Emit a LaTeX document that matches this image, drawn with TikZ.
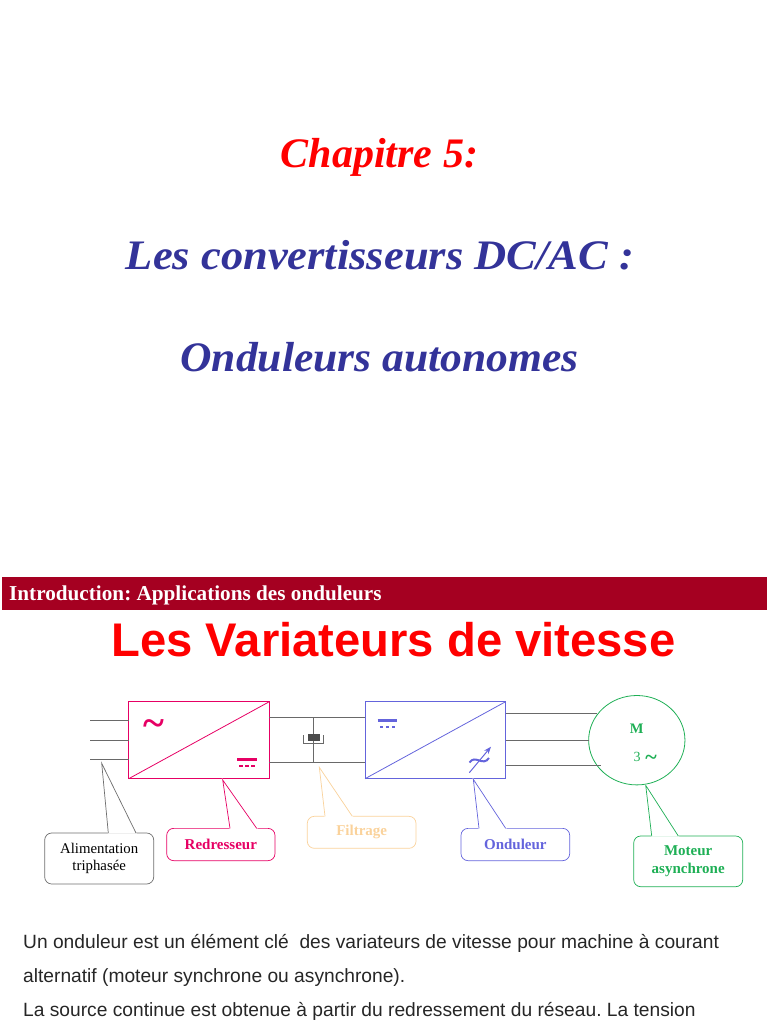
\documentclass[tikz,border=0pt]{standalone}
\usepackage{fontspec}
\setmainfont{Liberation Serif}
\setsansfont{Liberation Sans}
\usetikzlibrary{arrows.meta, positioning, shapes.geometric}
\frenchspacing
\definecolor{RougeTitre}{RGB}{255,0,0}
\definecolor{BleuTitre}{RGB}{51,51,153}
\definecolor{Bordeaux}{RGB}{165,0,33}
\definecolor{Fil}{RGB}{105,105,105}
\definecolor{Gris}{RGB}{110,110,110}
\definecolor{Rose}{RGB}{230,0,100}
\definecolor{Sable}{RGB}{250,210,155}
\definecolor{Bleu}{RGB}{100,100,220}
\definecolor{Vert}{RGB}{30,175,85}
\tikzset{titre/.style={anchor=base, inner sep=0pt, font=\fontsize{42}{42}\selectfont\bfseries\itshape}}
\tikzset{corps/.style={anchor=base west, inner sep=0pt, text=black!85, font=\sffamily\fontsize{19.2}{19.2}\selectfont}}
\tikzset{conv/.style={rectangle, draw=#1, line width=0.8pt, minimum width=140.6pt, minimum height=77pt, inner sep=0pt, outer sep=0pt}}
\tikzset{bulle/.style={rectangle, rounded corners=7pt, draw=#1, text=#1, line width=0.7pt, align=center,
  inner sep=0pt, outer sep=0pt, font=\fontsize{15}{18}\selectfont\bfseries}}
\tikzset{symb/.style={inner sep=0pt, text=#1, font=\fontsize{40}{40}\selectfont\bfseries}}
\tikzset{fil/.style={draw=Fil, line width=0.9pt}}
\begin{document}
\begin{tikzpicture}[x=1pt, y=-1pt]
\useasboundingbox (0,0) rectangle (768,1024);
% titres
\node[titre, text=RougeTitre] (chap) at (379.5,168) {Chapitre 5:};
\node[titre, text=BleuTitre] (conv) at (380,269.5) {\addfontfeatures{FakeStretch=1.06}Les convertisseurs DC/AC :};
\node[titre, text=BleuTitre] (ond) at (379.5,371.5) {\addfontfeatures{FakeStretch=1.037}Onduleurs autonomes};
\node[rectangle, fill=Bordeaux, minimum width=765.5pt, minimum height=33.6pt, inner sep=0pt] (bande) at (384.25,593.5) {};
\node[anchor=base west, inner sep=0pt, text=white, font=\fontsize{21.2}{21.2}\selectfont\bfseries] (intro) at (9,600) {Introduction: Applications des onduleurs};
\node[anchor=base, inner sep=0pt, text=RougeTitre, font=\sffamily\fontsize{47.2}{47.2}\selectfont\bfseries] (varia) at (393.5,656.7) {Les Variateurs de vitesse};
% convertisseurs et moteur
\node[conv=Rose] (redr) at (199,740.2) {};
\node[conv=Bleu] (onduleur) at (435.3,740.2) {};
\node[ellipse, draw=Vert, line width=0.8pt, minimum width=96.3pt, minimum height=89.4pt, inner sep=0pt, outer sep=0pt] (mot) at (636.8,740.2) {};
\draw[draw=Rose, line width=0.8pt] (redr.south west)--(redr.north east);
\draw[draw=Bleu, line width=0.8pt] (onduleur.south west)--(onduleur.north east);
% fils
\coordinate (e1) at (90,720.7);
\coordinate (e2) at (90,740.2);
\coordinate (e3) at (90,759.3);
\coordinate (dc1) at (313.7,717.7);
\coordinate (dc2) at (313.7,762.3);
\coordinate (s1) at (597,713.7);
\coordinate (s3) at (600.7,765.3);
\draw[fil] (e1)--(e1-|redr.west); \draw[fil] (e2)--(e2-|redr.west); \draw[fil] (e3)--(e3-|redr.west);
\draw[fil] (dc1-|redr.east)--(dc1-|onduleur.west); \draw[fil] (dc2-|redr.east)--(dc2-|onduleur.west);
\draw[fil] (dc1)--(dc2);
\draw[fil] (s1-|onduleur.east)--(s1); \draw[fil] (onduleur.east)--(mot.west); \draw[fil] (s3-|onduleur.east)--(s3);
% condensateur
\node[rectangle, fill=black!70, minimum width=12.4pt, minimum height=6.8pt, inner sep=0pt] (cond) at (313.8,737.4) {};
\draw[draw=Fil, line width=0.8pt] (303.5,735)--(303.5,743.3)--(323.3,743.3)--(323.3,735);
% symboles
\node[symb=Rose] (alt) at (154,728.5) {\textasciitilde};
\draw[draw=Rose, line width=2.7pt] (237.3,759.6)--(256.7,759.6);
\draw[draw=Rose, line width=2.4pt, dash pattern=on 3.4pt off 2.6pt] (239.3,765.7)--(256,765.7);
\draw[draw=Bleu, line width=2.7pt] (377.7,720.6)--(397.3,720.6);
\draw[draw=Bleu, line width=2.4pt, dash pattern=on 3.4pt off 2.6pt] (380,727)--(396.5,727);
\draw[draw=Bleu, line width=2pt] (469.5,762.5) .. controls (475,754) and (483,767) .. (489,758);
\draw[-{Stealth[length=2.6mm]}, draw=Bleu, line width=1pt] (469.3,772.7)--(491,746.7);
\node[inner sep=0pt, text=Vert, font=\fontsize{14.5}{15}\selectfont\bfseries] (lm) at (636.7,729) {M};
\node[inner sep=0pt, text=Vert, font=\fontsize{14}{14}\selectfont] (ltrois) at (637,757) {3};
\node[inner sep=0pt, text=Vert, font=\fontsize{22}{22}\selectfont\bfseries] (ltilde) at (651,759.5) {\textasciitilde};
% bulles
\node[bulle=Gris, minimum width=109pt, minimum height=51pt, text=black, font=\fontsize{14.8}{17}\selectfont] (ali) at (99.2,858.5) {Alimentation\\triphasée};
\node[bulle=Rose, minimum width=108.3pt, minimum height=32.3pt] (red) at (220.85,844.5) {Redresseur};
\node[bulle=Sable, minimum width=108.7pt, minimum height=32pt] (filt) at (361.65,832.3) {Filtrage};
\node[bulle=Bleu, minimum width=108.7pt, minimum height=32.3pt] (ondu) at (515.35,844.5) {Onduleur};
\node[bulle=Vert, minimum width=109pt, minimum height=50.7pt] (mota) at (688.2,861.35) {Moteur\\asynchrone};
\coordinate (alip) at (101.7,763.3); \coordinate (alig) at (108.3,833); \coordinate (alid) at (136,833);
\coordinate (redp) at (222.7,780); \coordinate (redg) at (230,828.35); \coordinate (redd) at (256.7,828.35);
\coordinate (filtp) at (319.3,767.3); \coordinate (filtg) at (325,816.3); \coordinate (filtd) at (352.3,816.3);
\coordinate (ondup) at (473.3,779.3); \coordinate (ondug) at (479,828.35); \coordinate (ondud) at (505.7,828.35);
\coordinate (motap) at (645.7,785.3); \coordinate (motag) at (651.7,836); \coordinate (motad) at (678.3,836);
\foreach \n/\c in {ali/Gris, red/Rose, filt/Sable, ondu/Bleu, mota/Vert}{
  \draw[draw=white, fill=white, line width=1pt] (\n g)--(\n p)--(\n d)--cycle;
  \draw[draw=\c, line width=0.7pt] (\n g)--(\n p)--(\n d);
}
% texte
\node[corps] (l1) at (23,948.3) {Un onduleur est un élément clé \ des variateurs de vitesse pour machine à courant};
\node[corps] (l2) at (23,982) {alternatif (moteur synchrone ou asynchrone).};
\node[corps] (l3) at (23,1016.5) {La source continue est obtenue à partir du redressement du réseau. La tension};
\end{tikzpicture}
\end{document}
